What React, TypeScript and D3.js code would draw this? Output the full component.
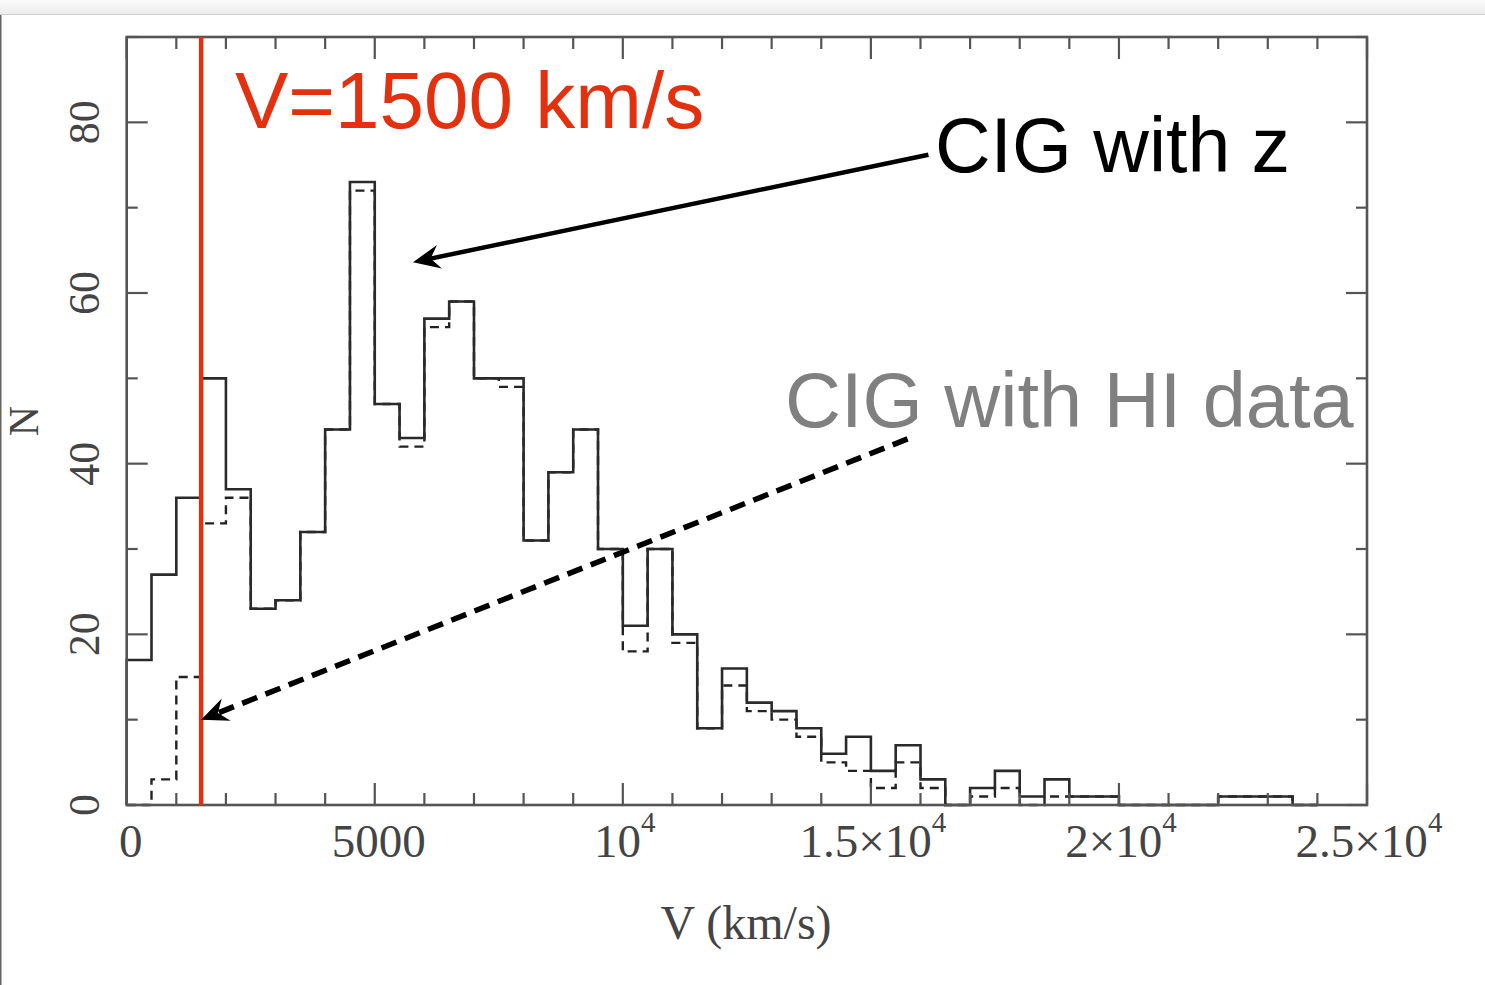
import React from "react";
import * as d3 from "d3";

// Histogram of recession velocities (bin width 500 km/s, starting at 0)
const binWidth = 500;
const solidCounts = [
  17, 27, 36, 50, 37, 23, 24, 32, 44, 73, 47, 43, 57, 59, 50, 50, 31, 39, 44, 30,
  21, 30, 20, 9, 16, 12, 11, 9, 6, 8, 4, 7, 3, 0, 2, 4, 1, 3, 1, 1,
  0, 0, 0, 0, 1, 1, 1, 0,
];
const dashedCounts = [
  0, 3, 15, 33, 36, 23, 24, 32, 44, 72, 47, 42, 56, 59, 50, 49, 31, 39, 44, 30,
  18, 30, 19, 9, 14, 11, 10, 8, 5, 4, 2, 5, 2, 0, 1, 2, 0, 1, 1, 1,
  0, 0, 0, 0, 1, 1, 1, 0,
];
const xMajorTicks = [0, 5000, 10000, 15000, 20000, 25000];
const xTickLabels: [string, string][] = [
  ["0", ""],
  ["5000", ""],
  ["10", "4"],
  ["1.5×10", "4"],
  ["2×10", "4"],
  ["2.5×10", "4"],
];
const yMajorTicks = [0, 20, 40, 60, 80];
const yTickLabels = ["0", "20", "40", "60", "80"];
const cutVelocity = 1500;

const W = 1485;
const H = 985;

export default function App() {
  const x = d3.scaleLinear().domain([0, 25000]).range([126.7, 1367]);
  const y = d3.scaleLinear().domain([0, 90]).range([805, 37]);

  const stepLine = d3
    .line<[number, number]>()
    .x((d) => x(d[0]))
    .y((d) => y(d[1]))
    .curve(d3.curveStepAfter);

  const toPts = (counts: number[]): [number, number][] => {
    const pts: [number, number][] = [[0, 0]];
    counts.forEach((c, i) => pts.push([i * binWidth, c]));
    pts.push([counts.length * binWidth, 0]);
    return pts;
  };

  const minorX = d3.range(0, 25001, 1000);
  const minorY = d3.range(0, 91, 10);

  const x0 = x(0), x1 = x(25000), yb = y(0), yt = y(90);
  const frameColor = "#555";

  // annotations (in data coordinates)
  const arrowSolid = { from: [16160, 76.2], to: [5770, 63.6] };
  const arrowDashed = { from: [15740, 42.9], to: [1500, 10] };

  const arrowHead = (fx: number, fy: number, tx: number, ty: number) => {
    const dx = tx - fx, dy = ty - fy;
    const len = Math.hypot(dx, dy);
    const ux = dx / len, uy = dy / len;
    const nx = -uy, ny = ux;
    const L = 27, Wd = 12, notch = 9;
    const p = [
      [tx, ty],
      [tx - L * ux + Wd * nx, ty - L * uy + Wd * ny],
      [tx - (L - notch) * ux, ty - (L - notch) * uy],
      [tx - L * ux - Wd * nx, ty - L * uy - Wd * ny],
    ];
    return "M" + p.map((q) => q.join(",")).join("L") + "Z";
  };
  const shorten = (fx: number, fy: number, tx: number, ty: number, s: number) => {
    const dx = tx - fx, dy = ty - fy;
    const len = Math.hypot(dx, dy);
    return [tx - (dx / len) * s, ty - (dy / len) * s];
  };

  const sF = [x(arrowSolid.from[0]), y(arrowSolid.from[1])];
  const sT = [x(arrowSolid.to[0]), y(arrowSolid.to[1])];
  const sE = shorten(sF[0], sF[1], sT[0], sT[1], 18);
  const dF = [x(arrowDashed.from[0]), y(arrowDashed.from[1])];
  const dT = [x(arrowDashed.to[0]), y(arrowDashed.to[1])];
  const dE = shorten(dF[0], dF[1], dT[0], dT[1], 18);

  const serif = "'Liberation Serif', 'DejaVu Serif', serif";
  const sans = "'Liberation Sans', Arial, Helvetica, sans-serif";

  return (
    <svg
      width={W}
      height={H}
      style={{ position: "absolute", left: 0, top: 0, display: "block", background: "#fff" }}
    >
      <defs>
        <linearGradient id="topbar" x1="0" y1="0" x2="0" y2="1">
          <stop offset="0" stopColor="#fbfbfb" />
          <stop offset="1" stopColor="#ededed" />
        </linearGradient>
      </defs>
      <rect x={0} y={0} width={W} height={14} fill="url(#topbar)" />
      <line x1={0} x2={W} y1={14.5} y2={14.5} stroke="#cfcfcf" strokeWidth={1} />
      <line x1={0.75} x2={0.75} y1={15} y2={H} stroke="#666" strokeWidth={1.5} />

      {/* histograms */}
      <path
        d={stepLine(toPts(dashedCounts)) || ""}
        fill="none"
        stroke="#222"
        strokeWidth={2.4}
        strokeDasharray="9,6"
      />
      <path d={stepLine(toPts(solidCounts)) || ""} fill="none" stroke="#2a2a2a" strokeWidth={2.6} />

      {/* frame */}
      <rect x={x0} y={yt} width={x1 - x0} height={yb - yt} fill="none" stroke={frameColor} strokeWidth={2.6} />

      {/* x ticks (bottom & top) */}
      {minorX.map((v) => {
        const major = v % 5000 === 0;
        const len = major ? 22 : 12;
        return (
          <g key={"xt" + v} stroke={frameColor} strokeWidth={2.2}>
            <line x1={x(v)} x2={x(v)} y1={yb} y2={yb - len} />
            <line x1={x(v)} x2={x(v)} y1={yt} y2={yt + len} />
          </g>
        );
      })}
      {/* y ticks (left & right) */}
      {minorY.map((v) => {
        const major = v % 20 === 0;
        const len = major ? 21 : 11;
        return (
          <g key={"yt" + v} stroke={frameColor} strokeWidth={2.2}>
            <line x1={x0} x2={x0 + len} y1={y(v)} y2={y(v)} />
            <line x1={x1} x2={x1 - len} y1={y(v)} y2={y(v)} />
          </g>
        );
      })}

      {/* x tick labels */}
      {xMajorTicks.map((v, i) => {
        const [base, sup] = xTickLabels[i];
        return (
          <text
            key={"xl" + v}
            x={x(v) + (sup ? 2 : 4)}
            y={857}
            textAnchor="middle"
            fontFamily={serif}
            fontSize={47}
            fill="#444"
          >
            {base}
            {sup && (
              <tspan fontSize={29} dy={-25}>
                {sup}
              </tspan>
            )}
          </text>
        );
      })}
      {/* y tick labels */}
      {yMajorTicks.map((v, i) => (
        <text
          key={"yl" + v}
          transform={`translate(${99},${y(v)}) rotate(-90)`}
          textAnchor="middle"
          fontFamily={serif}
          fontSize={44}
          fill="#444"
        >
          {yTickLabels[i]}
        </text>
      ))}

      {/* axis titles */}
      <text x={746} y={939} textAnchor="middle" fontFamily={serif} fontSize={48} fill="#444">
        V (km/s)
      </text>
      <text
        transform={`translate(38,421) rotate(-90)`}
        textAnchor="middle"
        fontFamily={serif}
        fontSize={42}
        fill="#444"
      >
        N
      </text>

      {/* cut line */}
      <line
        x1={x(cutVelocity)}
        x2={x(cutVelocity)}
        y1={yt}
        y2={yb}
        stroke="#e3300f"
        strokeWidth={4.5}
      />
      <text x={235} y={128} fontFamily={sans} fontSize={80} fill="#e3300f">
        V=1500 km/s
      </text>

      {/* annotations */}
      <text x={935} y={172} fontFamily={sans} fontSize={77} fill="#000">
        CIG with z
      </text>
      <text x={785} y={427} fontFamily={sans} fontSize={77.5} fill="#808080">
        CIG with HI data
      </text>

      <line x1={sF[0]} y1={sF[1]} x2={sE[0]} y2={sE[1]} stroke="#000" strokeWidth={4.5} />
      <path d={arrowHead(sF[0], sF[1], sT[0], sT[1])} fill="#000" />

      <line
        x1={dF[0]}
        y1={dF[1]}
        x2={dE[0]}
        y2={dE[1]}
        stroke="#000"
        strokeWidth={5.5}
        strokeDasharray="16,9"
      />
      <path d={arrowHead(dF[0], dF[1], dT[0], dT[1])} fill="#000" />
    </svg>
  );
}
